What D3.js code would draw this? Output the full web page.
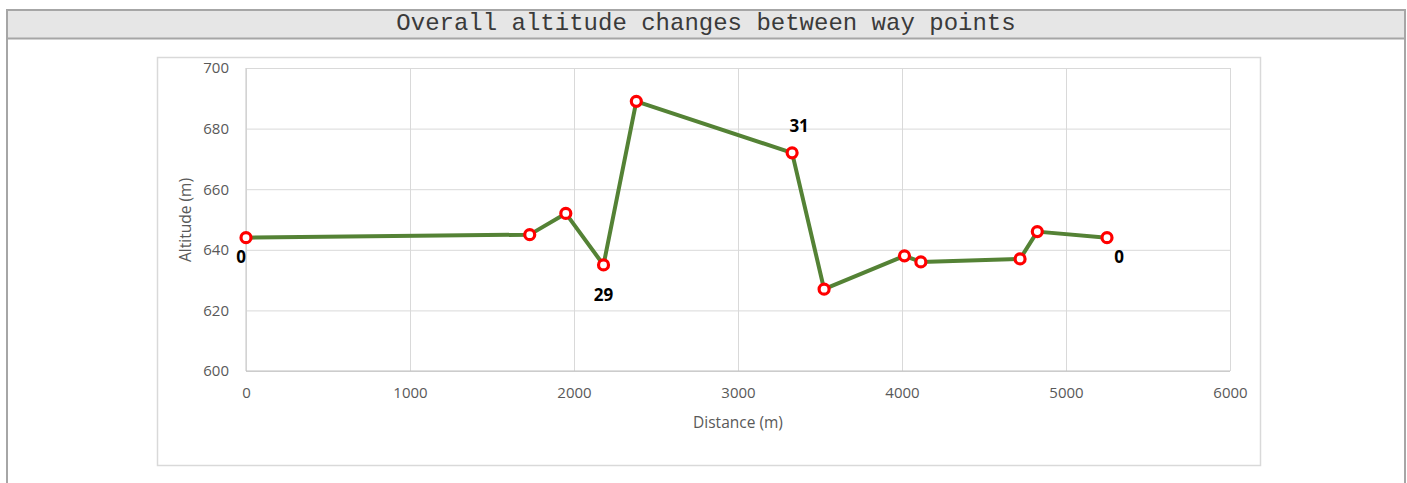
<!DOCTYPE html>
<html>
<head>
<meta charset="utf-8">
<script src="https://cdn.jsdelivr.net/npm/d3@7"></script>
<style>
  html, body { margin: 0; padding: 0; background: #fff; }
  svg { display: block; }
</style>
</head>
<body>
<svg id="chart" width="1407" height="483"></svg>
<script>
// ---- data ----
const distance = [0, 1730, 1950, 2180, 2380, 3330, 3525, 4015, 4115, 4720, 4825, 5250];
const altitude = [644, 645, 652, 635, 689, 672, 627, 638, 636, 637, 646, 644];
const pointLabels = ["0", "", "", "29", "", "31", "", "", "", "", "", "0"];
const labelPos = ["belowLeft", "", "", "below", "", "above", "", "", "", "", "", "belowRight"];
const xTicks = [0, 1000, 2000, 3000, 4000, 5000, 6000];
const yTicks = [600, 620, 640, 660, 680, 700];
const title = "Overall altitude changes between way points";
const xTitle = "Distance (m)";
const yTitle = "Altitude (m)";

const svg = d3.select("#chart");
const W = 1407, H = 483;

// outer frame
svg.append("rect").attr("x", 7).attr("y", 9).attr("width", 1398).attr("height", 29)
  .attr("fill", "#e6e6e6");
svg.append("line").attr("x1", 6).attr("x2", 1406).attr("y1", 10).attr("y2", 10)
  .attr("stroke", "#a6a6a6").attr("stroke-width", 2);
svg.append("line").attr("x1", 6).attr("x2", 1406).attr("y1", 38.5).attr("y2", 38.5)
  .attr("stroke", "#a6a6a6").attr("stroke-width", 2);
svg.append("line").attr("x1", 7).attr("x2", 7).attr("y1", 9).attr("y2", H)
  .attr("stroke", "#a6a6a6").attr("stroke-width", 2);
svg.append("line").attr("x1", 1405).attr("x2", 1405).attr("y1", 9).attr("y2", H)
  .attr("stroke", "#a6a6a6").attr("stroke-width", 2);
svg.append("text").attr("x", 706).attr("y", 30).attr("text-anchor", "middle")
  .attr("font-family", "'Liberation Mono', 'Courier New', monospace")
  .attr("font-size", 24).attr("fill", "#3a3a3a").text(title);

// chart box
svg.append("rect").attr("x", 157.5).attr("y", 57.5).attr("width", 1103).attr("height", 408)
  .attr("fill", "#fff").attr("stroke", "#d9d9d9").attr("stroke-width", 1.5);

const x = d3.scaleLinear().domain([0, 6000]).range([246, 1230]);
const y = d3.scaleLinear().domain([600, 700]).range([371, 68]);

const font = "'Open Sans', 'Liberation Sans', sans-serif";

// gridlines
const gx = svg.append("g").attr("transform", "translate(0,371)")
  .call(d3.axisBottom(x).tickValues(xTicks).tickSize(-(371 - 68)).tickFormat(""));
gx.select(".domain").remove();
gx.selectAll("line").attr("stroke", "#d9d9d9").attr("stroke-width", 1);

const gy = svg.append("g").attr("transform", "translate(246,0)")
  .call(d3.axisLeft(y).tickValues(yTicks).tickSize(-(1230 - 246)).tickFormat(""));
gy.select(".domain").remove();
gy.selectAll("line").attr("stroke", "#d9d9d9").attr("stroke-width", 1);

// axis lines
svg.append("line").attr("x1", 246).attr("x2", 246).attr("y1", 68).attr("y2", 371)
  .attr("stroke", "#cfcfcf").attr("stroke-width", 1.2);
svg.append("line").attr("x1", 246).attr("x2", 1230).attr("y1", 371).attr("y2", 371)
  .attr("stroke", "#bfbfbf").attr("stroke-width", 1.2);

// tick labels
const xl = svg.append("g").attr("transform", "translate(0,371)")
  .call(d3.axisBottom(x).tickValues(xTicks).tickSize(0).tickPadding(16).tickFormat(d3.format("d")));
xl.select(".domain").remove();
xl.selectAll("text").attr("font-family", font).attr("font-size", 15).attr("fill", "#595959");

const yl = svg.append("g").attr("transform", "translate(246,0)")
  .call(d3.axisLeft(y).tickValues(yTicks).tickSize(0).tickPadding(17).tickFormat(d3.format("d")));
yl.select(".domain").remove();
yl.selectAll("text").attr("font-family", font).attr("font-size", 15).attr("fill", "#595959");

// axis titles
svg.append("text").attr("x", 738).attr("y", 428).attr("text-anchor", "middle")
  .attr("font-family", font).attr("font-size", 15.5).attr("fill", "#595959").text(xTitle);
svg.append("text").attr("transform", "translate(191,220) rotate(-90)").attr("text-anchor", "middle")
  .attr("font-family", font).attr("font-size", 15.5).attr("fill", "#595959").text(yTitle);

// line
const data = distance.map((d, i) => ({ d, a: altitude[i], label: pointLabels[i], pos: labelPos[i] }));
svg.append("path").datum(data)
  .attr("fill", "none").attr("stroke", "#548235").attr("stroke-width", 4)
  .attr("stroke-linejoin", "round")
  .attr("d", d3.line().x(p => x(p.d)).y(p => y(p.a)));

// markers
svg.selectAll("circle.pt").data(data).enter().append("circle")
  .attr("class", "pt")
  .attr("cx", p => x(p.d)).attr("cy", p => y(p.a)).attr("r", 5)
  .attr("fill", "#fff").attr("stroke", "#ff0000").attr("stroke-width", 3.2);

// data labels
const off = { belowLeft: [-5, 25], below: [0, 36], above: [7, -21], belowRight: [12, 25] };
svg.selectAll("text.lbl").data(data.filter(p => p.label !== "")).enter().append("text")
  .attr("class", "lbl")
  .attr("x", p => x(p.d) + off[p.pos][0])
  .attr("y", p => y(p.a) + off[p.pos][1])
  .attr("text-anchor", "middle")
  .attr("font-family", font).attr("font-weight", "bold").attr("font-size", 17)
  .attr("fill", "#000").text(p => p.label);
</script>
</body>
</html>
